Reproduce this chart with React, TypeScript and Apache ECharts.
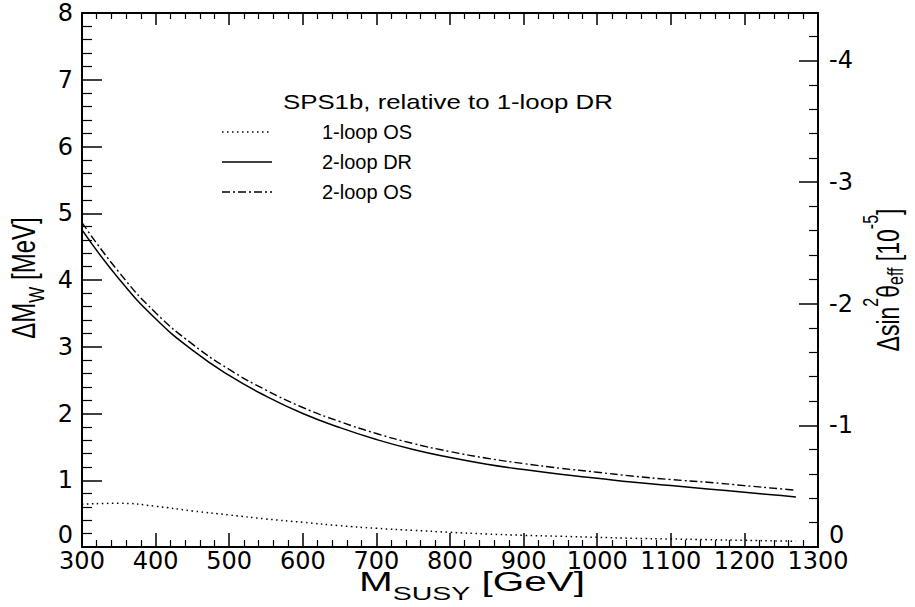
import React, { useEffect, useRef } from "react";
import * as echarts from "echarts";

// ---- data ----
const mSusy = [300, 350, 400, 450, 500, 550, 600, 650, 700, 750, 800, 850, 900, 950, 1000, 1050, 1100, 1150, 1200, 1250, 1270];
const oneLoopOS = [0.64, 0.655, 0.61, 0.54, 0.48, 0.42, 0.37, 0.32, 0.28, 0.25, 0.22, 0.195, 0.175, 0.16, 0.145, 0.13, 0.12, 0.11, 0.1, 0.09, 0.085];
const twoLoopDR = [4.75, 4.02, 3.42, 2.95, 2.57, 2.26, 2.0, 1.79, 1.61, 1.46, 1.34, 1.24, 1.16, 1.09, 1.03, 0.97, 0.92, 0.87, 0.82, 0.77, 0.75];
const twoLoopOS = [4.86, 4.12, 3.51, 3.04, 2.66, 2.35, 2.09, 1.88, 1.7, 1.55, 1.43, 1.33, 1.25, 1.18, 1.12, 1.06, 1.01, 0.97, 0.92, 0.87, 0.85];

const leftLabelTicks = [1, 2, 3, 4, 5, 6, 7, 8];
const rightMajorTicks = [-4, -3, -2, -1, 0];
const rightLabelTicks = [-4, -3, -2, -1];
const zeroTick = [0];
const rightMinorTicks = [-4.2, -3.8, -3.6, -3.4, -3.2, -2.8, -2.6, -2.4, -2.2, -1.8, -1.6, -1.4, -1.2, -0.8, -0.6, -0.4, -0.2];

const legendTitle = "SPS1b, relative to 1-loop DR";
const seriesNames = ["1-loop OS", "2-loop DR", "2-loop OS"];

const TICK_FONT = '"DejaVu Sans", sans-serif';
const TEXT_FONT = '"Liberation Sans", Arial, sans-serif';

function measure(text: string, size: number): number {
  const c = document.createElement("canvas").getContext("2d");
  if (!c) return text.length * size * 0.55;
  c.font = `${size}px "Liberation Sans"`;
  return c.measureText(text).width;
}

type Part = { t: string; size: number; dy: number };

function composite(parts: Part[], x: number, y: number, rotation: number, scaleX = 1, scaleY = 1) {
  const widths = parts.map((p) => measure(p.t, p.size));
  const total = widths.reduce((a, b) => a + b, 0);
  let cx = -total / 2;
  const children = parts.map((p, i) => {
    const el = {
      type: "text",
      x: cx,
      y: p.dy,
      style: {
        text: p.t,
        fontSize: p.size,
        fontFamily: TEXT_FONT,
        fill: "#000",
        align: "left",
        verticalAlign: "middle",
      },
    };
    cx += widths[i];
    return el;
  });
  return { type: "group", x, y, rotation, scaleX, scaleY, children };
}

export default function App() {
  const ref = useRef<HTMLDivElement>(null);

  useEffect(() => {
    if (!ref.current) return;
    const chart = echarts.init(ref.current, null, { renderer: "svg" });

    const lineStyles: any[] = [
      { color: "#000", width: 1.5, type: [1.5, 3.5] },
      { color: "#000", width: 1.5, type: "solid" },
      { color: "#000", width: 1.4, type: [8, 3, 2, 3] },
    ];
    const values = [oneLoopOS, twoLoopDR, twoLoopOS];

    const axisLine = { show: true, onZero: false, lineStyle: { color: "#000", width: 2 } };
    const labelBase = { color: "#000", fontSize: 24, fontFamily: TICK_FONT };
    const fmt = (v: number) => String(v);

    const legendY = [132, 162, 192];
    const legendEls: any[] = [
      {
        type: "text",
        x: 283,
        y: 102,
        scaleX: 1.29,
        style: { text: legendTitle, fontSize: 20, fontFamily: TEXT_FONT, fill: "#000", align: "left", verticalAlign: "middle" },
      },
    ];
    seriesNames.forEach((n, i) => {
      legendEls.push({
        type: "line",
        shape: { x1: 222, y1: legendY[i], x2: 272, y2: legendY[i] },
        style: {
          stroke: "#000",
          lineWidth: lineStyles[i].width,
          lineDash: Array.isArray(lineStyles[i].type) ? lineStyles[i].type : null,
        },
      });
      legendEls.push({
        type: "text",
        x: 322,
        y: legendY[i],
        style: { text: n, fontSize: 20, fontFamily: TEXT_FONT, fill: "#000", align: "left", verticalAlign: "middle" },
      });
    });

    const hidden = { show: false };

    const option: any = {
      animation: false,
      backgroundColor: "#fff",
      grid: { left: 82, right: 97, top: 13, bottom: 60, containLabel: false },
      xAxis: [
        {
          type: "value",
          min: 300,
          max: 1300,
          interval: 100,
          position: "bottom",
          axisLine,
          axisTick: { show: true, inside: true, length: 14, lineStyle: { color: "#000", width: 1.5 } },
          minorTick: { show: true, splitNumber: 5, length: 7, lineStyle: { color: "#000", width: 1.2 } },
          axisLabel: { ...labelBase, margin: 2, showMinLabel: true, showMaxLabel: true, formatter: fmt },
          splitLine: hidden,
          minorSplitLine: hidden,
        },
        {
          type: "value",
          min: 300,
          max: 1300,
          interval: 100,
          position: "top",
          axisLine,
          axisTick: { show: true, inside: true, length: 12, lineStyle: { color: "#000", width: 1.5 } },
          minorTick: { show: true, splitNumber: 5, length: 6, lineStyle: { color: "#000", width: 1.2 } },
          axisLabel: hidden,
          splitLine: hidden,
        },
      ],
      yAxis: [
        {
          type: "value",
          min: 0,
          max: 8,
          interval: 1,
          position: "left",
          axisLine,
          axisTick: { show: true, inside: true, length: 20, lineStyle: { color: "#000", width: 1.5 } },
          minorTick: { show: true, splitNumber: 5, length: 10, lineStyle: { color: "#000", width: 1.2 } },
          axisLabel: { ...labelBase, margin: 9, customValues: leftLabelTicks, formatter: fmt },
          splitLine: hidden,
          minorSplitLine: hidden,
        },
        {
          type: "value",
          min: -4.39,
          max: 0,
          inverse: true,
          position: "right",
          offset: 0,
          axisLine,
          axisTick: { show: true, inside: true, length: 19, customValues: rightMajorTicks, lineStyle: { color: "#000", width: 1.5 } },
          axisLabel: { ...labelBase, margin: 11, customValues: rightLabelTicks, formatter: fmt },
          splitLine: hidden,
        },
        {
          type: "value",
          min: -4.39,
          max: 0,
          inverse: true,
          position: "right",
          offset: 0,
          axisLine: hidden,
          axisTick: { show: true, inside: true, length: 9, customValues: rightMinorTicks, lineStyle: { color: "#000", width: 1.2 } },
          axisLabel: hidden,
          splitLine: hidden,
        },
        {
          // zero label of the left axis, sitting just above the x labels
          type: "value",
          min: 0,
          max: 8,
          position: "left",
          offset: 0,
          axisLine: hidden,
          axisTick: hidden,
          axisLabel: { ...labelBase, margin: 9, customValues: zeroTick, verticalAlign: "bottom", formatter: fmt },
          splitLine: hidden,
        },
        {
          // zero label of the right axis
          type: "value",
          min: -4.39,
          max: 0,
          inverse: true,
          position: "right",
          offset: 0,
          axisLine: hidden,
          axisTick: hidden,
          axisLabel: { ...labelBase, margin: 11, customValues: zeroTick, verticalAlign: "bottom", formatter: fmt },
          splitLine: hidden,
        },
      ],
      series: seriesNames.map((n, i) => ({
        name: n,
        type: "line",
        xAxisIndex: 0,
        yAxisIndex: 0,
        symbol: "none",
        smooth: 0.5,
        lineStyle: lineStyles[i],
        data: mSusy.map((m, j) => [m, values[i][j]]),
      })),
      graphic: [
        ...legendEls,
        composite(
          [
            { t: "ΔM", size: 24, dy: 0 },
            { t: "W", size: 17, dy: 9 },
            { t: " [MeV]", size: 24, dy: 0 },
          ],
          24,
          278,
          Math.PI / 2,
          1,
          1.35
        ),
        composite(
          [
            { t: "Δsin", size: 23, dy: 0 },
            { t: "2", size: 16, dy: -13 },
            { t: "θ", size: 23, dy: 0 },
            { t: "eff", size: 16, dy: 6 },
            { t: " [10", size: 23, dy: 0 },
            { t: "-5", size: 16, dy: -13 },
            { t: "]", size: 23, dy: 0 },
          ],
          888,
          280,
          Math.PI / 2,
          1,
          1.35
        ),
        composite(
          [
            { t: "M", size: 27, dy: 0 },
            { t: "SUSY", size: 19, dy: 11 },
            { t: " [GeV]", size: 27, dy: 0 },
          ],
          472,
          582,
          0,
          1.5,
          1
        ),
      ],
    };

    chart.setOption(option);
    return () => chart.dispose();
  }, []);

  return <div ref={ref} style={{ position: "absolute", left: 0, top: 0, width: 915, height: 607 }} />;
}
